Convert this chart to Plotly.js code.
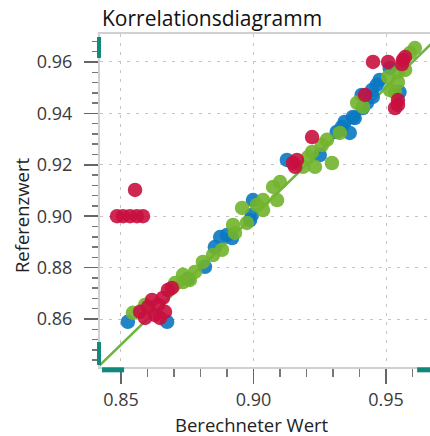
<!DOCTYPE html>
<html>
<head>
<meta charset="utf-8">
<script src="https://cdn.plot.ly/plotly-3.0.1.min.js"></script>
<style>
  html, body { margin: 0; padding: 0; background: #fff; }
  #chart { width: 430px; height: 436px; }
</style>
</head>
<body>
<div id="chart"></div>
<script>
// Berechnete Werte (x) gegen Referenzwerte (y), drei Messreihen
const blueX = [0.8526, 0.8674, 0.8753, 0.8817, 0.8854, 0.8874, 0.8900, 0.8919, 0.8987, 0.8994,
               0.8998, 0.9126, 0.9250, 0.9314, 0.9333, 0.9344, 0.9363, 0.9375, 0.9382, 0.9412,
               0.9428, 0.9408, 0.9450, 0.9447, 0.9465, 0.9476, 0.9514, 0.9551];
const blueY = [0.8589, 0.8589, 0.8756, 0.8803, 0.8880, 0.8919, 0.8927, 0.8915, 0.8985, 0.9005,
               0.9063, 0.9219, 0.9238, 0.9328, 0.9347, 0.9367, 0.9324, 0.9386, 0.9382, 0.9421,
               0.9441, 0.9472, 0.9464, 0.9491, 0.9511, 0.9530, 0.9577, 0.9483];

const greenX = [0.8545, 0.8591, 0.8704, 0.8734, 0.8734, 0.8760, 0.8779, 0.8809, 0.8847, 0.8881,
                0.8930, 0.8923, 0.8975, 0.8957, 0.9013, 0.9036, 0.9036, 0.9089, 0.9074, 0.9100,
                0.9187, 0.9206, 0.9221, 0.9232, 0.9296, 0.9277, 0.9258, 0.9326, 0.9391, 0.9413,
                0.9508, 0.9515, 0.9534, 0.9545, 0.9572, 0.9545, 0.9591, 0.9609];
const greenY = [0.8624, 0.8655, 0.8740, 0.8744, 0.8772, 0.8752, 0.8783, 0.8822, 0.8849, 0.8869,
                0.8935, 0.8966, 0.8974, 0.9032, 0.9044, 0.9024, 0.9063, 0.9063, 0.9114, 0.9133,
                0.9192, 0.9230, 0.9250, 0.9192, 0.9207, 0.9297, 0.9277, 0.9324, 0.9441, 0.9425,
                0.9542, 0.9491, 0.9483, 0.9522, 0.9569, 0.9561, 0.9635, 0.9654];

const redX = [0.8485, 0.8508, 0.8534, 0.8560, 0.8583, 0.8553,
              0.8572, 0.8602, 0.8591, 0.8628, 0.8647, 0.8617, 0.8658, 0.8677, 0.8692, 0.8640, 0.8666,
              0.9149, 0.9164, 0.9157, 0.9221, 0.9421,
              0.9451, 0.9508, 0.9564, 0.9572, 0.9560, 0.9545, 0.9534, 0.9545];
const redY = [0.9000, 0.9000, 0.9000, 0.9000, 0.9000, 0.9102,
              0.8628, 0.8647, 0.8604, 0.8616, 0.8604, 0.8674, 0.8682, 0.8713, 0.8721, 0.8655, 0.8628,
              0.9207, 0.9219, 0.9192, 0.9308, 0.9472,
              0.9600, 0.9600, 0.9608, 0.9619, 0.9592, 0.9452, 0.9421, 0.9433];

// Winkelhalbierende y = x
const diagonal = [0.83, 0.98];

const xTickFormat = '.2f';
const yTickFormat = '.2f';

const fontFamily = '"Open Sans", "Noto Sans", sans-serif';
const teal = '#12887a';

function points(x, y, color) {
  return {
    type: 'scatter', mode: 'markers', x: x, y: y, hoverinfo: 'x+y',
    marker: { color: color, size: 14.5, opacity: 0.9, line: { width: 0 } }
  };
}

const traces = [
  { type: 'scatter', mode: 'lines', x: diagonal, y: diagonal,
    line: { color: '#6cb33f', width: 2.5 }, hoverinfo: 'skip' },
  points(blueX, blueY, '#0a78c2'),
  points(greenX, greenY, '#72b42c'),
  points(redX, redY, '#c8103f')
];

const titleFont = { family: fontFamily, size: 18.5, color: '#222222' };

const layout = {
  width: 430, height: 436,
  margin: { l: 100, r: 0, t: 34, b: 69 },
  paper_bgcolor: '#ffffff', plot_bgcolor: '#ffffff',
  showlegend: false,
  font: { family: fontFamily, color: '#3a3a3a', size: 17 },
  title: {
    text: 'Korrelationsdiagramm',
    font: { family: fontFamily, size: 21, color: '#111111' },
    x: 0, xref: 'paper', xanchor: 'left', y: 0.958, yanchor: 'middle', pad: { l: 2 }
  },
  xaxis: {
    range: [0.84208, 0.9666],
    tick0: 0.85, dtick: 0.05, tickformat: xTickFormat,
    ticks: 'outside', ticklen: 15, tickwidth: 1.5, tickcolor: '#666',
    ticklabelstandoff: 0,
    tickfont: { family: fontFamily, size: 18, color: '#3a3a3a' },
    minor: { dtick: 0.01, ticks: 'outside', ticklen: 8, tickwidth: 1.5, tickcolor: '#777', showgrid: false },
    showgrid: true, gridcolor: '#c4c4c4', gridwidth: 1, griddash: '3px,6px',
    showline: true, linecolor: '#d0d0d0', linewidth: 2, mirror: true,
    zeroline: false, automargin: false
  },
  yaxis: {
    range: [0.84133, 0.97089],
    tick0: 0.86, dtick: 0.02, tickformat: yTickFormat,
    ticks: 'outside', ticklen: 14, tickwidth: 1.5, tickcolor: '#666',
    ticklabelstandoff: 8,
    tickfont: { family: fontFamily, size: 18, color: '#3a3a3a' },
    minor: { dtick: 0.004, ticks: 'outside', ticklen: 6, tickwidth: 1.5, tickcolor: '#777', showgrid: false },
    showgrid: true, gridcolor: '#c4c4c4', gridwidth: 1, griddash: '3px,6px',
    showline: true, linecolor: '#d0d0d0', linewidth: 2,
    zeroline: false, automargin: false
  },
  annotations: [
    { text: 'Berechneter Wert', xref: 'paper', yref: 'paper', x: 0.4606, y: -0.172,
      xanchor: 'center', yanchor: 'middle', showarrow: false, font: titleFont },
    { text: 'Referenzwert', xref: 'paper', yref: 'paper', x: -0.236, y: 0.4565, textangle: -90,
      xanchor: 'center', yanchor: 'middle', showarrow: false, font: titleFont }
  ],
  shapes: [
    // Bereichsgriffe an den Achsen
    { type: 'rect', xref: 'paper', yref: 'paper', x0: -0.009, x1: 0.003, y0: 0.928, y1: 0.991,
      fillcolor: teal, line: { width: 0 }, layer: 'above' },
    { type: 'rect', xref: 'paper', yref: 'paper', x0: -0.009, x1: 0.003, y0: 0.006, y1: 0.075,
      fillcolor: teal, line: { width: 0 }, layer: 'above' },
    { type: 'rect', xref: 'paper', yref: 'paper', x0: 0.006, x1: 0.073, y0: -0.016, y1: -0.001,
      fillcolor: teal, line: { width: 0 }, layer: 'above' },
    { type: 'rect', xref: 'paper', yref: 'paper', x0: 0.961, x1: 1.0, y0: -0.016, y1: -0.001,
      fillcolor: teal, line: { width: 0 }, layer: 'above' }
  ]
};

Plotly.newPlot('chart', traces, layout, { displayModeBar: false, staticPlot: true });
</script>
</body>
</html>
